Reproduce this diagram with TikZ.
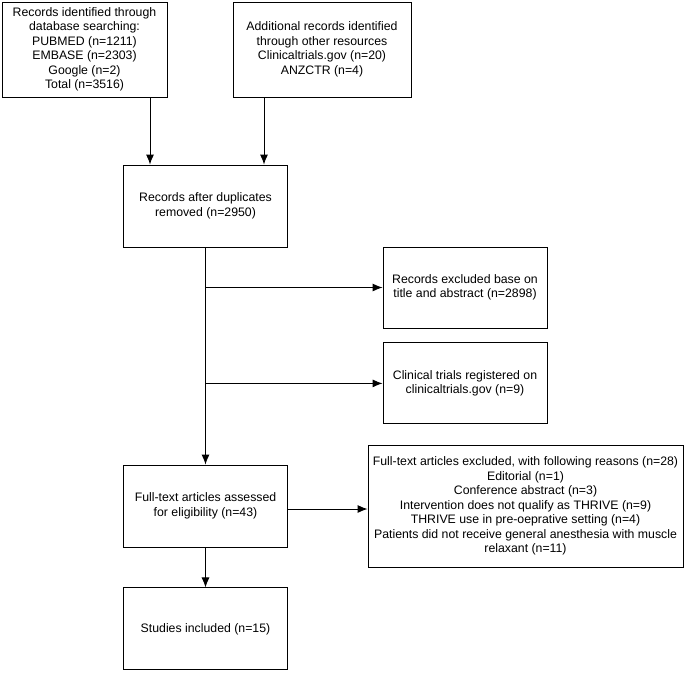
\documentclass[tikz,border=0pt]{standalone}
\usepackage{fontspec}
\setmainfont{Liberation Sans}
\usetikzlibrary{positioning,arrows.meta}

\tikzset{
  basic/.style  = {draw, line width=0.9pt, font=\fontsize{12.3}{14.5}\selectfont, rectangle, text centered, inner sep=2pt},
  source/.style = {basic, align=center, minimum height=95pt},
  step box/.style = {basic, align=center, minimum width=164pt, minimum height=82pt},
  side/.style   = {basic, align=center, minimum width=164pt, minimum height=81pt}
}

\begin{document}
\begin{tikzpicture}[x=1pt, y=-1pt,
  every path/.style={line width=0.9pt},
  >={Latex[length=10pt,width=8pt]}]
\useasboundingbox (0,0) rectangle (685,672);

% sources of records, top row
\node[source, minimum width=165pt] (db) at (84.5,49.5) {Records identified through\\database searching:\\PUBMED (n=1211)\\EMBASE (n=2303)\\Google (n=2)\\Total (n=3516)};
\node[source, minimum width=178pt] (other) at (322,49.5) {Additional records identified\\through other resources\\Clinicaltrials.gov (n=20)\\ANZCTR (n=4)};

% main column
\node[step box] (dup) at (205.5,206) {Records after duplicates\\removed (n=2950)};
\node[step box] (full) at (205.5,506) {Full-text articles assessed\\for eligibility (n=43)};
\node[step box, below=40pt of full] (incl) {Studies included (n=15)};

% exclusions on the right
\node[side] (excl) at (465,287.5) {Records excluded base on\\title and abstract (n=2898)};
\node[side, below=14pt of excl] (trials) {Clinical trials registered on\\clinicaltrials.gov (n=9)};
\node[basic, align=center, minimum width=315pt, minimum height=122pt] (reasons) at (525.5,506) {Full-text articles excluded, with following reasons (n=28)\\Editorial (n=1)\\Conference abstract (n=3)\\Intervention does not qualify as THRIVE (n=9)\\THRIVE use in pre-oeprative setting (n=4)\\Patients did not receive general anesthesia with muscle\\relaxant (n=11)};

% arrows from the sources
\coordinate (db out) at ([xshift=65.5pt]db.south);
\coordinate (other out) at ([xshift=-58pt]other.south);
\foreach \src in {db out, other out}
  \draw[->] (\src) -- (\src |- dup.north);

% spine and branches
\draw[->] (dup) -- (full);
\foreach \n in {excl, trials}
  \draw[->] (dup.south |- \n.west) -- (\n.west);
\draw[->] ([yshift=-3pt]full.east) -- ([yshift=-3pt]full.east -| reasons.west);
\draw[->] (full) -- (incl);
\end{tikzpicture}
\end{document}
